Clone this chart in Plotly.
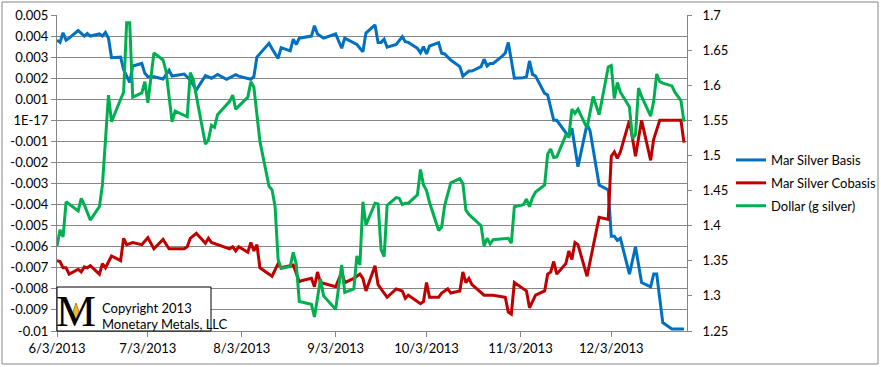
import pandas as pd
import plotly.graph_objects as go

# ---------------- data ----------------
basis_dates = ["6/3","6/4","6/5","6/6","6/7","6/10","6/12","6/13","6/14","6/17","6/18","6/19","6/20","6/21",
               "6/24","6/25","6/27","6/28","7/1","7/2","7/3","7/5","7/8","7/10","7/11","7/15","7/17","7/19",
               "7/22","7/24","7/26","7/29","8/1","8/2","8/6","8/7","8/8","8/12","8/13","8/15","8/16","8/19",
               "8/20","8/21","8/22","8/26","8/27","8/28","8/30","9/3","9/5","9/6","9/10","9/12","9/13","9/16",
               "9/17","9/18","9/19","9/20","9/23","9/25","9/26","9/27","9/30","10/1","10/2","10/3","10/4",
               "10/7","10/8","10/9","10/11","10/14","10/15","10/17","10/18","10/21","10/22","10/23","10/24",
               "10/25","10/28","10/29","10/30","11/1","11/4","11/5","11/6","11/7","11/8","11/11","11/12",
               "11/14","11/15","11/19","11/20","11/22","11/25","11/26","11/29","12/2","12/3","12/4","12/5",
               "12/6","12/9","12/11","12/13","12/16","12/17","12/18","12/20","12/23","12/26","12/27"]
basis_values = [0.0038,0.0037,0.00416,0.0038,0.0039,0.00426,0.0040,0.00412,0.0040,0.0041,0.0040,0.00417,0.0039,0.00297,
                0.0030,0.0024,0.0018,0.00258,0.0027,0.00223,0.00207,0.00207,0.00196,0.00238,0.0021,0.0022,0.00191,0.00144,
                0.00212,0.0020,0.00218,0.00195,0.00217,0.0021,0.00195,0.00207,0.0030,0.00366,0.0034,0.00294,0.00345,0.0033,
                0.00385,0.0036,0.0039,0.0040,0.00449,0.0041,0.0039,0.0041,0.00342,0.0039,0.0036,0.00326,0.00414,0.00453,
                0.0037,0.0037,0.00385,0.00347,0.0036,0.00397,0.00373,0.0037,0.00342,0.00321,0.0035,0.00315,0.00353,
                0.00369,0.00318,0.00315,0.00286,0.00255,0.0021,0.00234,0.00234,0.00255,0.0029,0.00258,0.0027,
                0.0027,0.00305,0.0032,0.0037,0.0020,0.00202,0.00207,0.00282,0.00218,0.0021,0.00128,0.0012,
                0.0000,0.0000,-0.00078,-0.00038,-0.0022,-0.00018,-0.0005,-0.00307,-0.0033,-0.0055,-0.0055,-0.0057,
                -0.0056,-0.0073,-0.0060,-0.0077,-0.0079,-0.0073,-0.0073,-0.0096,-0.0099,-0.0099,-0.0099]

cobasis_dates = ["6/3","6/4","6/5","6/6","6/7","6/10","6/11","6/12","6/13","6/14","6/17","6/18","6/19","6/21",
                 "6/24","6/25","6/26","6/28","7/1","7/3","7/5","7/8","7/10","7/15","7/16","7/17","7/19","7/22",
                 "7/23","7/24","7/30","7/31","8/1","8/2","8/5","8/6","8/7","8/8","8/9","8/13","8/15","8/16",
                 "8/20","8/22","8/23","8/26","8/27","8/28","8/29","9/3","9/5","9/6","9/9","9/11","9/12","9/13",
                 "9/16","9/17","9/20","9/23","9/25","9/26","9/27","9/30","10/1","10/2","10/3","10/4","10/7",
                 "10/8","10/10","10/11","10/14","10/15","10/16","10/17","10/18","10/22","10/25","10/29","10/30",
                 "10/31","11/1","11/4","11/5","11/6","11/8","11/11","11/12","11/13","11/14","11/15","11/18",
                 "11/19","11/20","11/21","11/22","11/25","11/29","12/2","12/3","12/4","12/5","12/6","12/9",
                 "12/11","12/13","12/16","12/17","12/19","12/20","12/23","12/24","12/26","12/27"]
cobasis_values = [-0.00666,-0.0067,-0.0070,-0.0070,-0.0073,-0.00707,-0.0072,-0.00695,-0.0070,-0.0069,-0.0073,-0.0068,-0.0070,-0.00644,
                  -0.00666,-0.0056,-0.0059,-0.0058,-0.0059,-0.00557,-0.0061,-0.00565,-0.0061,-0.0061,-0.0060,-0.0056,-0.00536,-0.00584,
                  -0.0056,-0.0058,-0.0061,-0.0060,-0.0062,-0.0060,-0.00626,-0.0058,-0.0062,-0.0059,-0.0070,-0.0074,-0.0068,-0.0070,
                  -0.00687,-0.00766,-0.0076,-0.0075,-0.0079,-0.0072,-0.0077,-0.0079,-0.0072,-0.0077,-0.0075,-0.0073,-0.0075,-0.0081,
                  -0.0069,-0.0078,-0.0084,-0.0080,-0.0081,-0.00845,-0.0083,-0.0086,-0.0087,-0.0086,-0.0077,-0.0084,-0.0084,
                  -0.0082,-0.0080,-0.0082,-0.0081,-0.0072,-0.0077,-0.0075,-0.0078,-0.0083,-0.0083,-0.0084,-0.0091,
                  -0.0092,-0.0077,-0.0080,-0.0081,-0.0089,-0.0083,-0.0081,-0.0073,-0.0072,-0.0067,-0.0073,-0.0068,
                  -0.0062,-0.0066,-0.0058,-0.0059,-0.0074,-0.0046,-0.0047,-0.0017,-0.0015,-0.0018,-0.0015,0.0,
                  -0.0017,0.0,-0.0019,-0.0009,0.0,0.0,0.0,0.0,0.0,-0.00106]

dollar_dates = ["6/3","6/4","6/5","6/6","6/10","6/11","6/12","6/14","6/17","6/18","6/20","6/21","6/24","6/25",
                "6/26","6/27","6/28","7/1","7/2","7/3","7/5","7/8","7/9","7/11","7/12","7/16","7/17","7/18",
                "7/22","7/23","7/24","7/25","7/26","7/30","7/31","8/1","8/5","8/6","8/7","8/9","8/12","8/13",
                "8/14","8/15","8/16","8/19","8/20","8/21","8/22","8/26","8/27","8/29","8/30","9/3","9/5","9/6",
                "9/9","9/10","9/11","9/12","9/13","9/16","9/17","9/18","9/19","9/20","9/23","9/24","9/25","9/26",
                "9/27","9/30","10/1","10/2","10/3","10/4","10/7","10/8","10/9","10/11","10/14","10/15","10/16",
                "10/17","10/21","10/22","10/23","10/24","10/25","10/28","10/29","10/30","10/31","11/1","11/4",
                "11/5","11/6","11/7","11/8","11/11","11/12","11/13","11/14","11/15","11/18","11/19","11/20",
                "11/21","11/22","11/25","11/27","11/29","12/2","12/3","12/4","12/5","12/6","12/9","12/10",
                "12/11","12/12","12/13","12/16","12/17","12/18","12/19","12/20","12/23","12/24","12/26","12/27"]
dollar_values = [1.371,1.394,1.384,1.434,1.421,1.439,1.430,1.408,1.427,1.458,1.586,1.548,1.580,1.590,
                 1.689,1.689,1.583,1.589,1.605,1.575,1.646,1.636,1.620,1.548,1.563,1.555,1.618,1.608,
                 1.516,1.522,1.543,1.540,1.558,1.577,1.586,1.566,1.583,1.605,1.597,1.520,1.456,1.451,
                 1.427,1.352,1.339,1.342,1.362,1.345,1.292,1.288,1.270,1.324,1.300,1.281,1.344,1.305,
                 1.310,1.357,1.344,1.434,1.401,1.432,1.431,1.366,1.356,1.429,1.440,1.439,1.430,1.432,
                 1.432,1.444,1.480,1.458,1.450,1.433,1.393,1.398,1.429,1.461,1.467,1.460,1.422,
                 1.416,1.400,1.371,1.382,1.374,1.380,1.381,1.382,1.382,1.375,1.427,1.430,
                 1.438,1.427,1.440,1.448,1.458,1.502,1.509,1.497,1.498,1.529,1.527,1.566,
                 1.560,1.566,1.539,1.584,1.558,1.626,1.628,1.581,1.604,1.590,1.569,1.524,
                 1.530,1.596,1.584,1.556,1.577,1.616,1.605,1.603,1.599,1.590,1.578,1.548]

x_tick_dates = ["6/3","7/3","8/3","9/3","10/3","11/3","12/3"]
x_tick_labels = ["6/3/2013","7/3/2013","8/3/2013","9/3/2013","10/3/2013","11/3/2013","12/3/2013"]
left_tick_values = [0.005,0.004,0.003,0.002,0.001,0.0,-0.001,-0.002,-0.003,-0.004,-0.005,-0.006,-0.007,-0.008,-0.009,-0.01]
left_tick_labels = ["0.005","0.004","0.003","0.002","0.001","1E-17","-0.001","-0.002","-0.003","-0.004","-0.005",
                    "-0.006","-0.007","-0.008","-0.009","-0.01"]
right_tick_values = [1.7,1.65,1.6,1.55,1.5,1.45,1.4,1.35,1.3,1.25]
right_tick_labels = ["1.7","1.65","1.6","1.55","1.5","1.45","1.4","1.35","1.3","1.25"]


def to_dates(lst):
    return pd.to_datetime([d + "/2013" for d in lst], format="%m/%d/%Y")


FONT = "Lato"
GRID = "#868686"
W, H = 881, 367
L, R, T, B = 57, 194, 15, 36
PW, PH = W - L - R, H - T - B


def px(xp):
    return (xp - L) / PW


def py(yp):
    return (H - B - yp) / PH


fig = go.Figure()
fig.add_trace(go.Scatter(x=to_dates(basis_dates), y=basis_values, name="Mar Silver Basis", mode="lines",
                         line=dict(color="#0070C0", width=3), legendgroup="a"))
fig.add_trace(go.Scatter(x=to_dates(cobasis_dates), y=cobasis_values, name="Mar Silver Cobasis", mode="lines",
                         line=dict(color="#C00000", width=3), legendgroup="b"))
fig.add_trace(go.Scatter(x=to_dates(dollar_dates), y=dollar_values, name="Dollar (g silver)", mode="lines",
                         line=dict(color="#00B050", width=3), yaxis="y2", legendgroup="c"))

fig.update_layout(
    width=W, height=H,
    margin=dict(l=L, r=R, t=T, b=B, pad=0, autoexpand=False),
    paper_bgcolor="white", plot_bgcolor="white",
    font=dict(family=FONT, size=13, color="black"),
    xaxis=dict(type="date", range=["2013-06-03", "2013-12-28"], automargin=False,
               tickvals=to_dates(x_tick_dates), ticktext=x_tick_labels,
               ticks="outside", ticklen=5, tickcolor=GRID, showline=True, linecolor=GRID, linewidth=1,
               showgrid=False, zeroline=False, tickfont=dict(family=FONT, size=13)),
    yaxis=dict(range=[-0.01, 0.005], tickvals=left_tick_values, ticktext=left_tick_labels, automargin=False,
               ticks="outside", ticklen=5, tickcolor=GRID, showline=True, linecolor=GRID, linewidth=1,
               showgrid=True, gridcolor=GRID, gridwidth=1, zeroline=False, tickfont=dict(family=FONT, size=13)),
    yaxis2=dict(range=[1.25, 1.7], overlaying="y", side="right", tickvals=right_tick_values, automargin=False,
                ticktext=right_tick_labels, ticks="outside", ticklen=4, tickcolor=GRID, showline=True,
                ticklabelstandoff=8,
                linecolor=GRID, linewidth=1, showgrid=False, zeroline=False, tickfont=dict(family=FONT, size=13)),
    legend=dict(x=px(731), y=py(183), xanchor="left", yanchor="middle", font=dict(family=FONT, size=13),
                bgcolor="rgba(0,0,0,0)", borderwidth=0, tracegroupgap=3, traceorder="grouped"),
    showlegend=True,
)

# outer chart border
fig.add_shape(type="rect", xref="paper", yref="paper", x0=px(2), x1=px(878), y0=py(364), y1=py(2),
              line=dict(color=GRID, width=1), fillcolor="rgba(0,0,0,0)", layer="below")
# copyright box
fig.add_shape(type="rect", xref="paper", yref="paper", x0=px(57), x1=px(211), y0=py(331), y1=py(287),
              line=dict(color="black", width=1), fillcolor="white", layer="above")
fig.add_annotation(xref="paper", yref="paper", x=px(76), y=py(311), text="M", showarrow=False,
                   font=dict(family="Liberation Serif", size=45, color="black"), xanchor="center", yanchor="middle")
# small gold emblem in the middle of the logo
gx, gy = 76, 312
fig.add_shape(type="path", xref="paper", yref="paper",
              path=(f"M {px(gx)} {py(gy - 9)} L {px(gx + 3)} {py(gy)} L {px(gx)} {py(gy + 9)} "
                    f"L {px(gx - 3)} {py(gy)} Z"),
              line=dict(color="#B8860B", width=1), fillcolor="#E8B830", layer="above")

fig.add_annotation(xref="paper", yref="paper", x=px(100), y=py(308), text="Copyright 2013", showarrow=False,
                   font=dict(family=FONT, size=13, color="black"), xanchor="left", yanchor="middle")
fig.add_annotation(xref="paper", yref="paper", x=px(100), y=py(324), text="Monetary Metals, LLC", showarrow=False,
                   font=dict(family=FONT, size=13, color="black"), xanchor="left", yanchor="middle")

fig.write_html("out.html", config={"displayModeBar": False},
               post_script="document.body.style.margin='0px';document.body.style.padding='0px';")
